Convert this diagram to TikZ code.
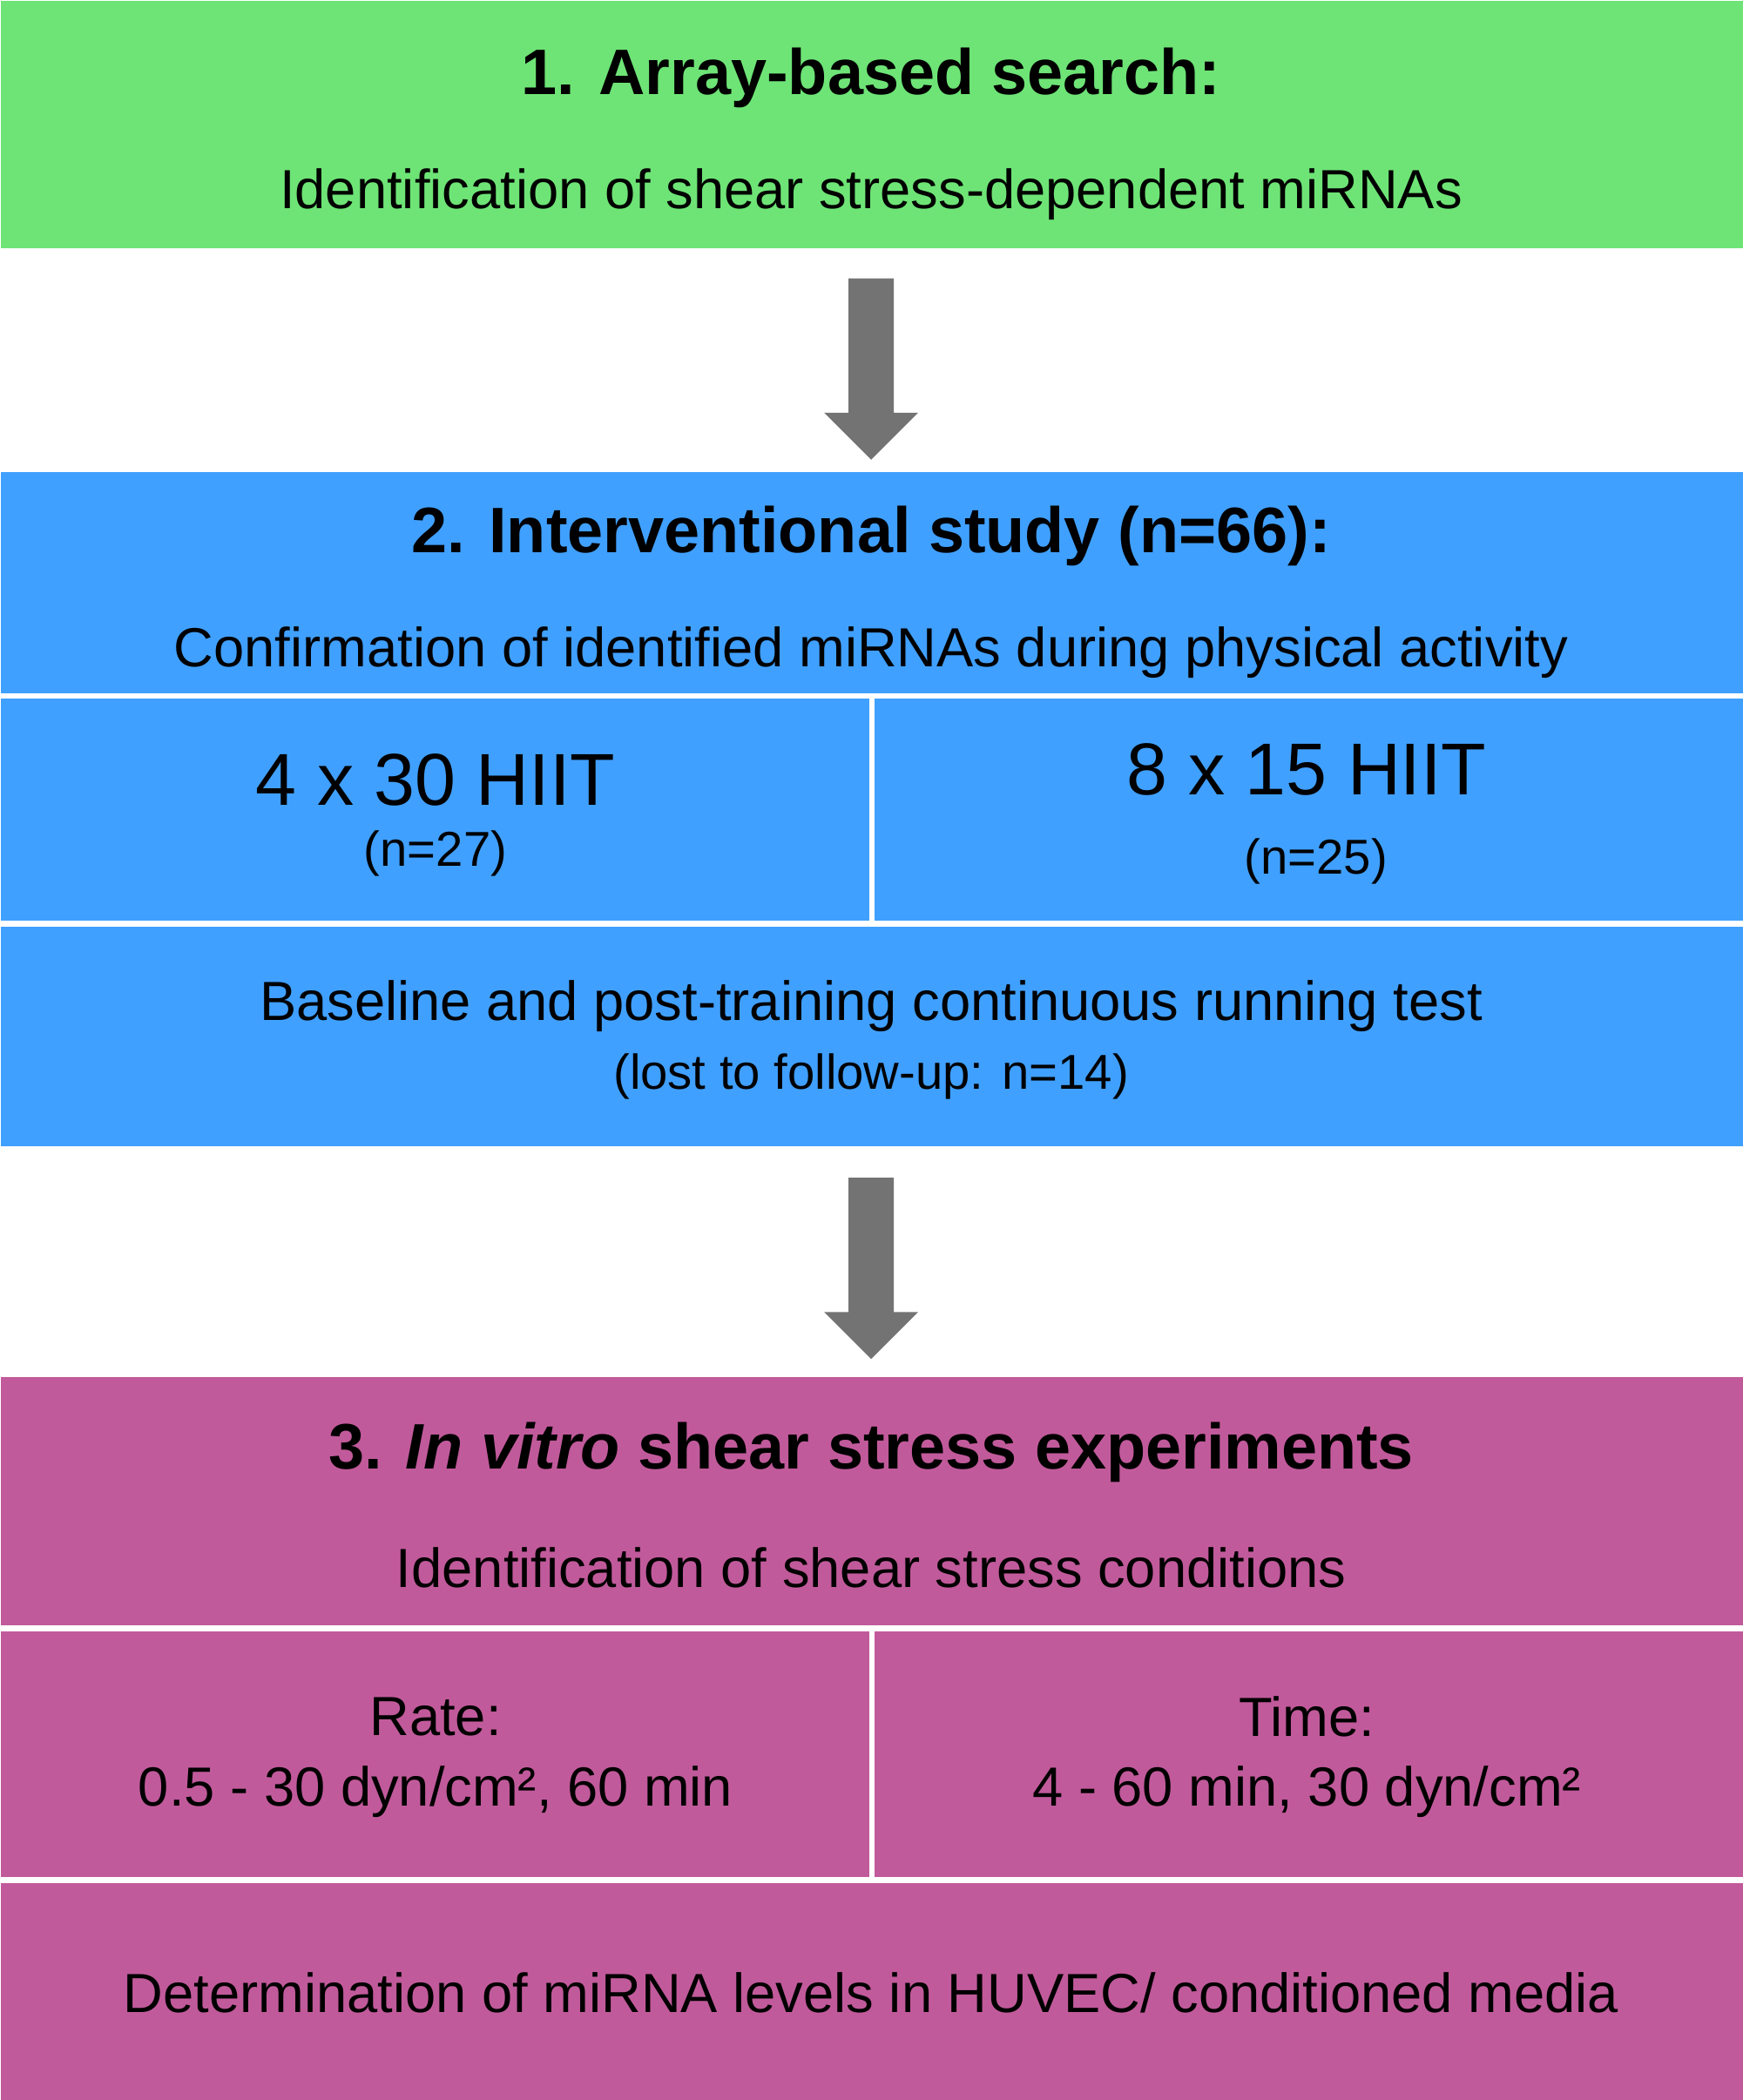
\documentclass[tikz,border=0pt]{standalone}
\usepackage{fontspec}
\setmainfont{Liberation Sans}
\usetikzlibrary{shapes.arrows}
\definecolor{stepgreen}{RGB}{110,228,118}
\definecolor{stepblue}{RGB}{64,160,255}
\definecolor{steppink}{RGB}{193,90,155}
\begin{document}
\begin{tikzpicture}[x=0.015385cm, y=-0.015385cm]
        \tikzset{box/.style={rectangle, inner sep=0pt, anchor=north west},
                 head/.style={font=\fontsize{21}{25}\selectfont\bfseries},
                 sub/.style={font=\fontsize{18}{22}\selectfont},
                 big/.style={font=\fontsize{24}{28}\selectfont},
                 small/.style={font=\fontsize{16}{19}\selectfont},
                 downarrow/.style={single arrow, shape border rotate=270, fill=gray!90!black, draw=none,
                     minimum width=1.077cm, single arrow head extend=0.277cm, single arrow head indent=0pt,
                     inner sep=0.25cm, minimum height=2.08cm}}
        \useasboundingbox (0,0) rectangle (1300,1567);

                    % Boxes
                    \node[box, fill=stepgreen, minimum width=20cm, minimum height=2.846cm] (array) at (0,0) {};
                    \node[box, fill=stepblue, minimum width=20cm, minimum height=2.54cm] (study) at (0,352) {};
                    \node[box, fill=stepblue, minimum width=9.97cm, minimum height=2.55cm] (hiita) at (0,521) {};
                    \node[box, fill=stepblue, minimum width=9.97cm, minimum height=2.55cm] (hiitb) at (652,521) {};
                    \node[box, fill=stepblue, minimum width=20cm, minimum height=2.52cm] (test) at (0,691) {};
                    \node[box, fill=steppink, minimum width=20cm, minimum height=2.85cm] (vitro) at (0,1027) {};
                    \node[box, fill=steppink, minimum width=9.97cm, minimum height=2.82cm] (rate) at (0,1217) {};
                    \node[box, fill=steppink, minimum width=9.97cm, minimum height=2.82cm] (time) at (652,1217) {};
                    \node[box, fill=steppink, minimum width=20cm, minimum height=2.50cm] (levels) at (0,1405) {};

                    % Arrows
                    \node[downarrow] (arr1) at (650,267) {};
                    \node[downarrow] (arr2) at (650,938) {};

                    % Texts
                    \node[head] at (650,58) {1. Array-based search:};
                    \node[sub] at (650,145) {Identification of shear stress-dependent miRNAs};
                    \node[head] at (650,400) {2. Interventional study (n=66):};
                    \node[sub] at (650,487) {Confirmation of identified miRNAs during physical activity};
                    \node[big] at (325,582) {4 x 30 HIIT};
                    \node[small] at (325,637) {(n=27)};
                    \node[big] at (975,574) {8 x 15 HIIT};
                    \node[small] at (982,643) {(n=25)};
                    \node[sub] at (650,751) {Baseline and post-training continuous running test};
                    \node[small] at (650,803) {(lost to follow-up: n=14)};
                    \node[head] at (650,1084) {3. \textit{In vitro} shear stress experiments};
                    \node[sub] at (650,1170) {Identification of shear stress conditions};
                    \node[sub] at (325,1281) {Rate:};
                    \node[sub] at (325,1337) {0.5 - 30 dyn/cm², 60 min};
                    \node[sub] at (975,1281) {Time:};
                    \node[sub] at (975,1337) {4 - 60 min, 30 dyn/cm²};
                    \node[sub] at (650,1487) {Determination of miRNA levels in HUVEC/ conditioned media};
            \end{tikzpicture}
\end{document}
